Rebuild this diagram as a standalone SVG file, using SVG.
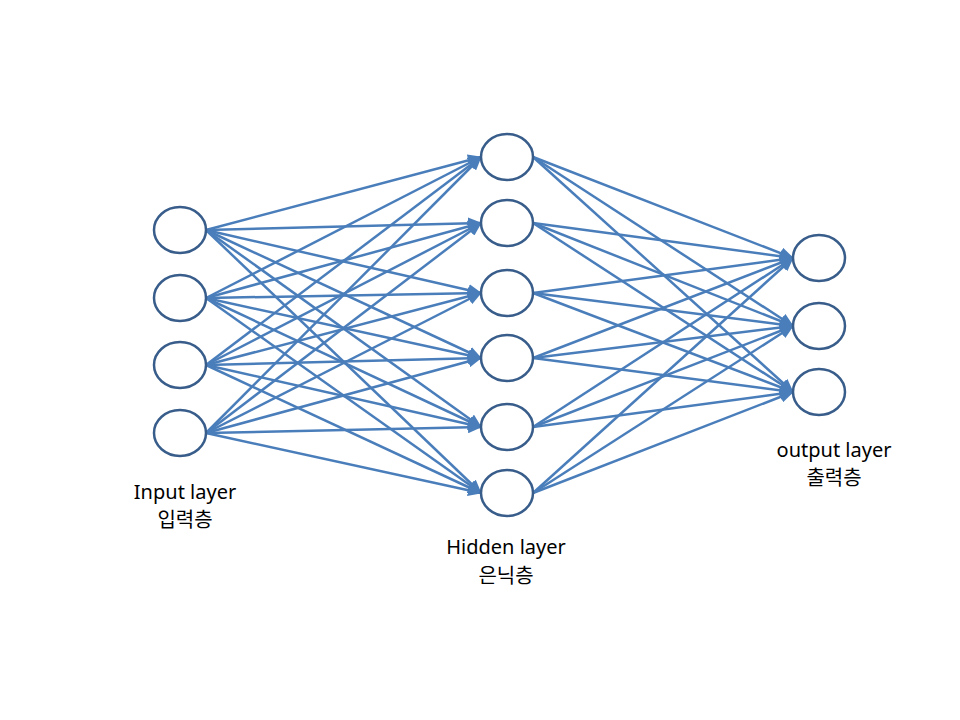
<svg xmlns="http://www.w3.org/2000/svg" width="960" height="720" viewBox="0 0 960 720">
<style>
.n{fill:#fff;stroke:#385d8a;stroke-width:2.5}
.c line{stroke:#4a7ebb;stroke-width:2.5;marker-end:url(#a)}
text{font-family:"Noto Sans","Noto Sans CJK KR",sans-serif;font-size:20px;text-anchor:middle;fill:#000}
</style>
<defs><marker id="a" markerUnits="userSpaceOnUse" markerWidth="14" markerHeight="12" refX="13" refY="6" orient="auto"><path d="M0,0L14,6L0,12z" fill="#4a7ebb"/></marker></defs>
<rect width="960" height="720" fill="#fff"/>
<g class="c">
<line x1="206" y1="230" x2="481" y2="157"/><line x1="206" y1="230" x2="481" y2="223"/><line x1="206" y1="230" x2="481" y2="293"/><line x1="206" y1="230" x2="481" y2="358"/><line x1="206" y1="230" x2="481" y2="427"/><line x1="206" y1="230" x2="481" y2="493"/>
<line x1="206" y1="298" x2="481" y2="157"/><line x1="206" y1="298" x2="481" y2="223"/><line x1="206" y1="298" x2="481" y2="293"/><line x1="206" y1="298" x2="481" y2="358"/><line x1="206" y1="298" x2="481" y2="427"/><line x1="206" y1="298" x2="481" y2="493"/>
<line x1="206" y1="365" x2="481" y2="157"/><line x1="206" y1="365" x2="481" y2="223"/><line x1="206" y1="365" x2="481" y2="293"/><line x1="206" y1="365" x2="481" y2="358"/><line x1="206" y1="365" x2="481" y2="427"/><line x1="206" y1="365" x2="481" y2="493"/>
<line x1="206" y1="433" x2="481" y2="157"/><line x1="206" y1="433" x2="481" y2="223"/><line x1="206" y1="433" x2="481" y2="293"/><line x1="206" y1="433" x2="481" y2="358"/><line x1="206" y1="433" x2="481" y2="427"/><line x1="206" y1="433" x2="481" y2="493"/>
<line x1="533" y1="157" x2="793" y2="258"/><line x1="533" y1="157" x2="793" y2="326"/><line x1="533" y1="157" x2="793" y2="392"/>
<line x1="533" y1="223" x2="793" y2="258"/><line x1="533" y1="223" x2="793" y2="326"/><line x1="533" y1="223" x2="793" y2="392"/>
<line x1="533" y1="293" x2="793" y2="258"/><line x1="533" y1="293" x2="793" y2="326"/><line x1="533" y1="293" x2="793" y2="392"/>
<line x1="533" y1="358" x2="793" y2="258"/><line x1="533" y1="358" x2="793" y2="326"/><line x1="533" y1="358" x2="793" y2="392"/>
<line x1="533" y1="427" x2="793" y2="258"/><line x1="533" y1="427" x2="793" y2="326"/><line x1="533" y1="427" x2="793" y2="392"/>
<line x1="533" y1="493" x2="793" y2="258"/><line x1="533" y1="493" x2="793" y2="326"/><line x1="533" y1="493" x2="793" y2="392"/>
</g>
<g id="i1"><ellipse class="n" cx="180" cy="230" rx="26" ry="23"/></g>
<g id="i2"><ellipse class="n" cx="180" cy="298" rx="26" ry="23"/></g>
<g id="i3"><ellipse class="n" cx="180" cy="365" rx="26" ry="23"/></g>
<g id="i4"><ellipse class="n" cx="180" cy="433" rx="26" ry="23"/></g>
<g id="h1"><ellipse class="n" cx="507" cy="157" rx="26" ry="23"/></g>
<g id="h2"><ellipse class="n" cx="507" cy="223" rx="26" ry="23"/></g>
<g id="h3"><ellipse class="n" cx="507" cy="293" rx="26" ry="23"/></g>
<g id="h4"><ellipse class="n" cx="507" cy="358" rx="26" ry="23"/></g>
<g id="h5"><ellipse class="n" cx="507" cy="427" rx="26" ry="23"/></g>
<g id="h6"><ellipse class="n" cx="507" cy="493" rx="26" ry="23"/></g>
<g id="o1"><ellipse class="n" cx="819" cy="258" rx="26" ry="23"/></g>
<g id="o2"><ellipse class="n" cx="819" cy="326" rx="26" ry="23"/></g>
<g id="o3"><ellipse class="n" cx="819" cy="392" rx="26" ry="23"/></g>
<g id="lbl-in"><text x="185" y="499">Input layer</text><text x="185" y="527">입력층</text></g>
<g id="lbl-hid"><text x="506" y="554">Hidden layer</text><text x="506" y="583">은닉층</text></g>
<g id="lbl-out"><text x="834" y="457">output layer</text><text x="834" y="485">출력층</text></g>
</svg>
